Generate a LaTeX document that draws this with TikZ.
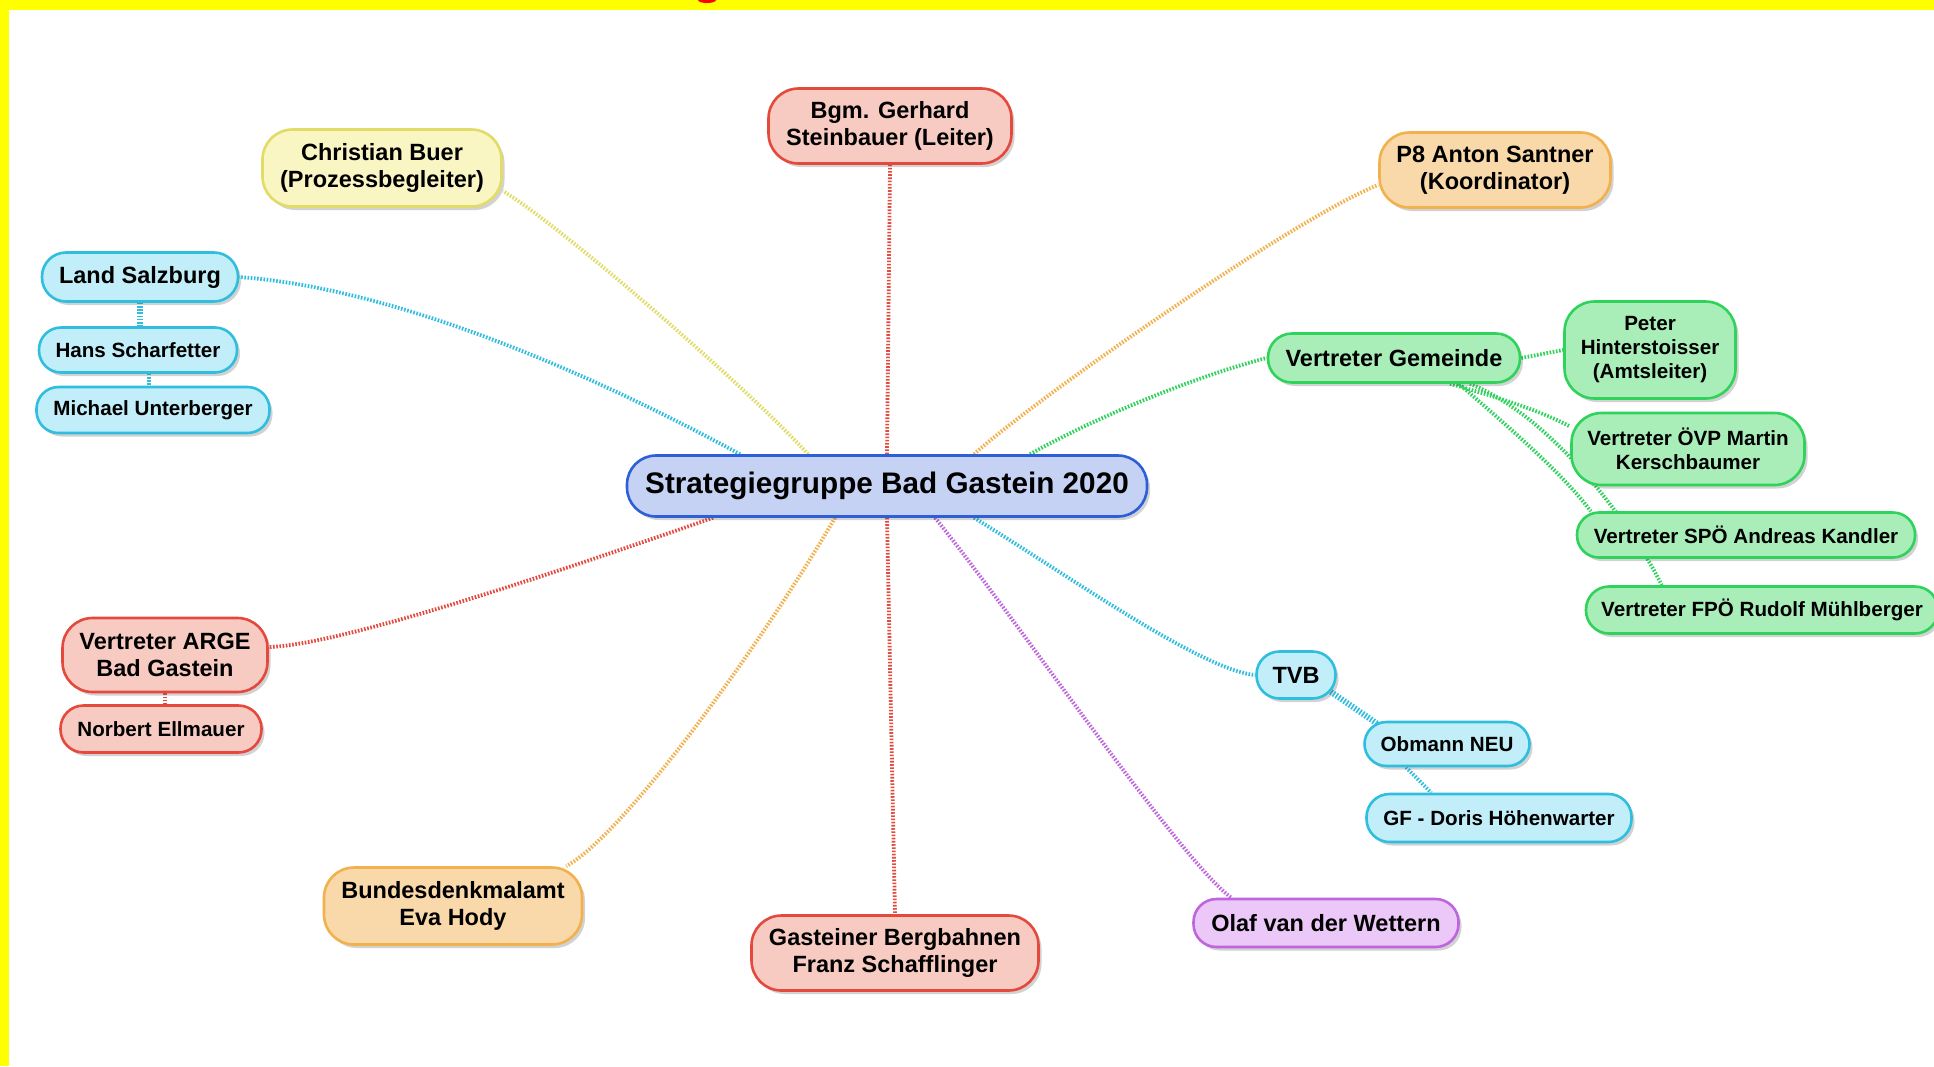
\documentclass[tikz,border=0pt]{standalone}
\usepackage{fontspec}
\setmainfont{Liberation Sans}
\usetikzlibrary{shadows,calc}
\pgfdeclarelayer{bglayer}
\pgfdeclarelayer{edgelayer}
\pgfsetlayers{bglayer,edgelayer,main}
\definecolor{cyanF}{HTML}{C2EEF9}\definecolor{cyanD}{HTML}{30BEDF}
\definecolor{grnF}{HTML}{A9EEB9}\definecolor{grnD}{HTML}{2FD35C}
\definecolor{redF}{HTML}{F8CBC2}\definecolor{redD}{HTML}{E5493D}
\definecolor{yelF}{HTML}{F9F6C3}\definecolor{yelD}{HTML}{E2DC66}
\definecolor{orF}{HTML}{F9D9A9}\definecolor{orD}{HTML}{F2B14C}
\definecolor{purF}{HTML}{EBC8F7}\definecolor{purD}{HTML}{BF66DF}
\definecolor{bluF}{HTML}{C6D2F3}\definecolor{bluD}{HTML}{2D5FD8}
\definecolor{frameY}{HTML}{FFFF00}
\tikzset{
  mm/.style={draw, line width=2.6pt, align=center, inner sep=0pt, text=black,
    drop shadow={shadow xshift=3pt, shadow yshift=-3.5pt, opacity=0.25, fill=black!70}},
  bigf/.style={font=\bfseries\fontsize{29.7}{34}\selectfont},
  medf/.style={font=\bfseries\fontsize{23.5}{27}\selectfont},
  smallf/.style={font=\bfseries\fontsize{20.6}{24}\selectfont},
  box/.style n args={3}{minimum width=#1pt, minimum height=#2pt, rounded corners=#3pt},
  cyannode/.style={mm, fill=cyanF, draw=cyanD},
  grnnode/.style={mm, fill=grnF, draw=grnD},
  rednode/.style={mm, fill=redF, draw=redD},
  yelnode/.style={mm, fill=yelF, draw=yelD},
  ornode/.style={mm, fill=orF, draw=orD},
  purnode/.style={mm, fill=purF, draw=purD},
  blunode/.style={mm, fill=bluF, draw=bluD},
  conn/.style={line width=3.8pt, dash pattern=on 1.6pt off 1.6pt},
}
\begin{document}
\begin{tikzpicture}[x=1pt, y=-1pt]
\useasboundingbox (0,0) rectangle (1934,1066);
\begin{pgfonlayer}{bglayer}
  \fill[white] (0,0) rectangle (1934,1066);
  \fill[frameY] (0,0) rectangle (1934,10);
  \fill[frameY] (0,0) rectangle (9,1066);
  \fill[red] (707,0) ellipse (9 and 3);
\end{pgfonlayer}

\node[blunode, bigf, box={520}{61}{29}] (c) at (887,486) {Strategiegruppe Bad Gastein 2020};
\node[rednode, medf, box={243}{75}{30}] (bgm) at (890,126) {Bgm. Gerhard\\Steinbauer (Leiter)};
\node[yelnode, medf, box={239}{77}{30}] (chr) at (382,168) {Christian Buer\\(Prozessbegleiter)};
\node[ornode, medf, box={231}{75}{30}] (p8) at (1495,170) {P8 Anton Santner\\(Koordinator)};
\node[cyannode, medf, box={196}{49}{24}] (land) at (140,277) {Land Salzburg};
\node[cyannode, smallf, box={198}{45}{22}] (hans) at (138,350) {Hans Scharfetter};
\node[cyannode, smallf, box={233}{46}{22}] (mich) at (153,410) {Michael Unterberger};
\node[grnnode, medf, box={252}{49}{24}] (gem) at (1394,358) {Vertreter Gemeinde};
\node[grnnode, smallf, box={171}{97}{30}] (pet) at (1650,350) {Peter\\Hinterstoisser\\(Amtsleiter)};
\node[grnnode, smallf, box={233}{72}{30}] (ovp) at (1688,449) {Vertreter ÖVP Martin\\Kerschbaumer};
\node[grnnode, smallf, box={338}{45}{22}] (spo) at (1746,535) {Vertreter SPÖ Andreas Kandler};
\node[grnnode, smallf, box={352}{47}{23}] (fpo) at (1762,610) {Vertreter FPÖ Rudolf Mühlberger};
\node[cyannode, medf, box={79}{47}{23}] (tvb) at (1296,675) {TVB};
\node[cyannode, smallf, box={165}{44}{22}] (obm) at (1447,744) {Obmann NEU};
\node[cyannode, smallf, box={265}{48}{23}] (gf) at (1499,818) {GF - Doris Höhenwarter};
\node[purnode, medf, box={265}{48}{23}] (olaf) at (1326,923) {Olaf van der Wettern};
\node[rednode, medf, box={287}{75}{30}] (gas) at (895,953) {Gasteiner Bergbahnen\\Franz Schafflinger};
\node[ornode, medf, box={258}{77}{30}] (bda) at (453,906) {Bundesdenkmalamt\\Eva Hody};
\node[rednode, medf, box={205}{74}{30}] (arge) at (165,655) {Vertreter ARGE\\Bad Gastein};
\node[rednode, smallf, box={201}{47}{23}] (nor) at (161,729) {Norbert Ellmauer};

\coordinate (hm) at ([xshift=11pt]hans.south);
\coordinate (ls) at (land.south);
\coordinate (as) at (arge.south);

\begin{pgfonlayer}{edgelayer}
  \draw[conn, draw=cyanD] ([xshift=-147pt]c.north) .. controls (640,400) and (420,290) .. (land.east);
  \draw[conn, draw=yelD] ([xshift=-79pt]c.north) .. controls (750,390) and (560,225) .. ([yshift=-23pt]chr.east);
  \draw[conn, draw=redD] (c.north) -- (bgm.south);
  \draw[conn, draw=orD] ([xshift=87pt]c.north) .. controls (1040,395) and (1300,215) .. ([yshift=-15pt]p8.west);
  \draw[conn, draw=grnD] ([xshift=143pt]c.north) .. controls (1100,415) and (1200,375) .. (gem.west);
  \draw[conn, draw=redD] ([xshift=-174pt]c.south) .. controls (620,550) and (350,645) .. ([yshift=8pt]arge.east);
  \draw[conn, draw=orD] ([xshift=-52pt]c.south) .. controls (770,630) and (630,830) .. ([xshift=-17pt]bda.north east);
  \draw[conn, draw=redD] (c.south) -- (gas.north);
  \draw[conn, draw=purD] ([xshift=48pt]c.south) .. controls (1010,610) and (1180,860) .. ([xshift=39pt]olaf.north west);
  \draw[conn, draw=cyanD] ([xshift=87pt]c.south) .. controls (1060,570) and (1200,670) .. (tvb.west);
  % Gemeinde children
  \draw[conn, draw=grnD] (gem.east) -- (pet.west);
  \draw[conn, draw=grnD] ([xshift=56pt]gem.south) .. controls (1490,395) and (1540,410) .. ([yshift=-15pt]ovp.north west);
  \draw[conn, draw=grnD] ([xshift=65pt]gem.south) .. controls (1500,420) and (1560,470) .. ([xshift=15pt]spo.north west);
  \draw[conn, draw=grnD] ([xshift=76pt]gem.south) .. controls (1560,420) and (1640,540) .. ([xshift=77pt]fpo.north west);
  % TVB children
  \draw[conn, draw=cyanD, line width=6pt] ([xshift=-6pt,yshift=8pt]tvb.south east) -- ([xshift=14pt,yshift=-3pt]obm.north west);
  \draw[conn, draw=cyanD] ([xshift=-41pt]obm.south) -- ([xshift=66pt]gf.north west);
  % stacked children
  \draw[conn, draw=cyanD, line width=6pt] (ls) -- (ls |- hans.north);
  \draw[conn, draw=cyanD] (hm) -- (hm |- mich.north);
  \draw[conn, draw=redD] (as) -- (as |- nor.north);
\end{pgfonlayer}
\end{tikzpicture}
\end{document}
